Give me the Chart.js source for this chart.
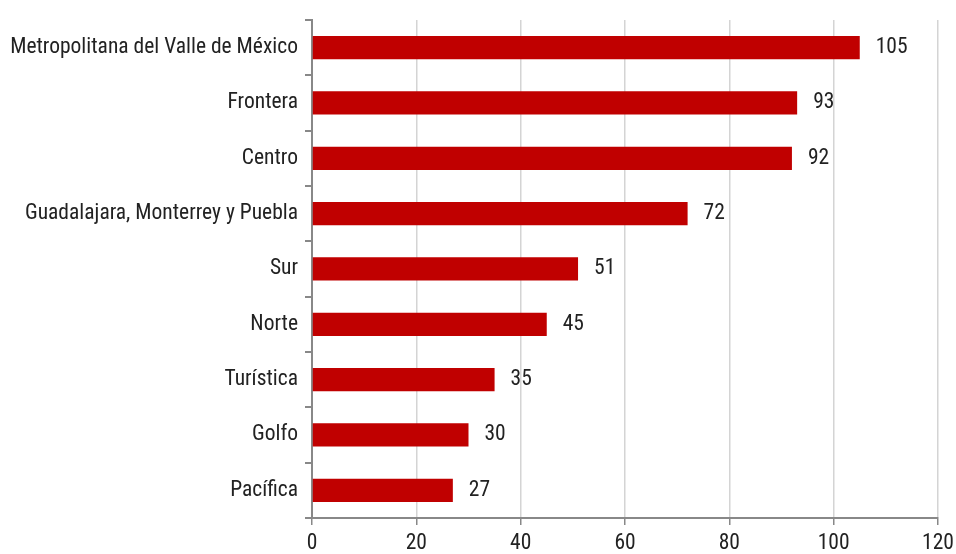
<!DOCTYPE html>
<html>
<head>
<meta charset="utf-8">
<script src="https://cdn.jsdelivr.net/npm/chart.js@4"></script>
<style>
  html, body { margin: 0; padding: 0; background: #fff; }
  #wrap { width: 956px; height: 554px; }
</style>
</head>
<body>
<div id="wrap"><canvas id="regionChart"></canvas></div>
<script>
// Datos
const regiones = [
  'Metropolitana del Valle de México',
  'Frontera',
  'Centro',
  'Guadalajara, Monterrey y Puebla',
  'Sur',
  'Norte',
  'Turística',
  'Golfo',
  'Pacífica'
];
const valores = [105, 93, 92, 72, 51, 45, 35, 30, 27];
const ticksX = [0, 20, 40, 60, 80, 100, 120];

const fuente = "'Roboto Condensed', 'Liberation Sans', Arial, sans-serif";
const tamFuente = 21.5;

// Etiquetas de valor a la derecha de cada barra
const etiquetasValor = {
  id: 'etiquetasValor',
  afterDatasetsDraw(chart) {
    const ctx = chart.ctx;
    const meta = chart.getDatasetMeta(0);
    ctx.save();
    ctx.font = tamFuente + 'px ' + fuente;
    ctx.fillStyle = '#222';
    ctx.textAlign = 'left';
    ctx.textBaseline = 'middle';
    meta.data.forEach(function(bar, i) {
      ctx.fillText(valores[i], bar.x + 16, bar.y);
    });
    ctx.restore();
  }
};

const regionChart = new Chart(
  document.getElementById('regionChart'),
  {
    type: 'bar',
    data: {
      labels: regiones,
      datasets: [{
        data: valores,
        backgroundColor: '#c00000',
        borderWidth: 0,
        categoryPercentage: 1,
        barPercentage: 0.42
      }]
    },
    options: {
      indexAxis: 'y',
      responsive: true,
      maintainAspectRatio: false,
      animation: false,
      layout: { padding: { top: 14, right: 18, left: 0, bottom: 0 } },
      plugins: {
        legend: { display: false },
        tooltip: { enabled: false }
      },
      scales: {
        x: {
          min: 0,
          max: 120,
          afterBuildTicks: function(scale) {
            scale.ticks = ticksX.map(v => ({ value: v }));
          },
          afterFit: function(scale) {
            scale.height = 36;
            scale.paddingRight = 0;
            scale.paddingLeft = 0;
          },
          grid: {
            color: function(c) { return c.tick && c.tick.value === 0 ? 'rgba(0,0,0,0)' : '#d4d4d4'; },
            lineWidth: 1.5,
            tickColor: '#888',
            tickLength: 7
          },
          border: { color: '#888', width: 2 },
          ticks: {
            color: '#222',
            padding: 6,
            font: { family: fuente, size: tamFuente }
          }
        },
        y: {
          afterFit: function(scale) { scale.width = 312; },
          grid: {
            drawOnChartArea: false,
            tickColor: '#888',
            tickLength: 7,
            lineWidth: 2
          },
          border: { color: '#888', width: 2 },
          ticks: {
            color: '#222',
            padding: 7,
            font: { family: fuente, size: tamFuente }
          }
        }
      }
    },
    plugins: [etiquetasValor]
  }
);
</script>
</body>
</html>
